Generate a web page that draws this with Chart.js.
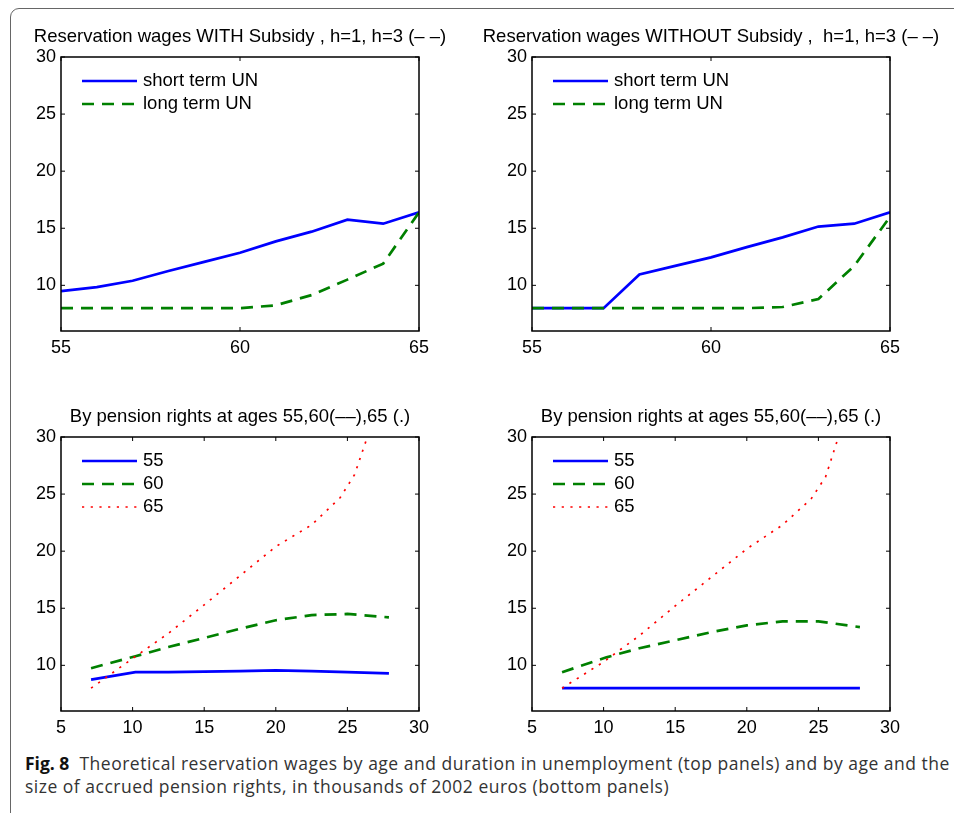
<!DOCTYPE html>
<html>
<head>
<meta charset="utf-8">
<script src="https://cdn.jsdelivr.net/npm/chart.js@4"></script>
<style>
  body { margin: 0; width: 954px; height: 813px; overflow: hidden; background: #fff; position: relative; }
  .frame { position: absolute; left: 10px; top: 8px; width: 1000px; height: 900px; border: 1px solid #666; border-radius: 9px; }
  .panel { position: absolute; width: 474px; height: 364px; }
  .caption { position: absolute; left: 25px; top: 752px; width: 930px; font-family: "Open Sans", sans-serif; font-size: 17.5px; letter-spacing: 0.5px; line-height: 23px; color: #333; }
  .caption b { color: #111; letter-spacing: 0; }
</style>
</head>
<body>
<div class="frame"></div>
<div class="panel" style="left:3px;top:2px"><canvas id="c1"></canvas></div>
<div class="panel" style="left:474px;top:2px"><canvas id="c2"></canvas></div>
<div class="panel" style="left:3px;top:382px"><canvas id="c3"></canvas></div>
<div class="panel" style="left:474px;top:382px"><canvas id="c4"></canvas></div>
<div class="caption"><b>Fig. 8</b>&nbsp; Theoretical reservation wages by age and duration in unemployment (top panels) and by age and the size of accrued pension rights, in thousands of 2002 euros (bottom panels)</div>
<script>
// top panels: ages 55..65
const ages = [55, 56, 57, 58, 59, 60, 61, 62, 63, 64, 65]
const withShort = [9.5, 9.85, 10.4, 11.25, 12.05, 12.85, 13.85, 14.7, 15.75, 15.4, 16.4]
const withLong = [8, 8, 8, 8, 8, 8, 8.25, 9.15, 10.5, 11.9, 16.4]
const withoutShort = [8, 8, 8, 10.95, 11.7, 12.45, 13.35, 14.2, 15.15, 15.4, 16.4]
const withoutLong = [8, 8, 8, 8, 8, 8, 8, 8.1, 8.8, 11.7, 16.0]

// bottom panels: accrued pension rights
const rights = [7.1, 10.2, 12.5, 15, 17.5, 20, 22.5, 25, 27.9]
const rights65 = [7.1, 10, 12.5, 15, 17.5, 20, 22.5, 24.5, 25.5, 26.5]
const sub55 = [8.75, 9.4, 9.4, 9.45, 9.5, 9.55, 9.5, 9.4, 9.3]
const sub60 = [9.75, 10.8, 11.6, 12.4, 13.2, 13.95, 14.4, 14.5, 14.2]
const sub65 = [8.0, 10.6, 12.8, 15.3, 17.85, 20.4, 22.3, 24.7, 26.7, 30.4]
const nosub55 = [8, 8, 8, 8, 8, 8, 8, 8, 8]
const nosub60 = [9.4, 10.7, 11.5, 12.2, 12.9, 13.5, 13.85, 13.85, 13.35]
const nosub65 = [8.0, 10.3, 12.6, 15.2, 17.7, 20.2, 22.3, 24.6, 26.5, 30.4]

const titles = [
    'Reservation wages WITH Subsidy , h=1, h=3 (\u2013 \u2013)',
    'Reservation wages WITHOUT Subsidy ,  h=1, h=3 (\u2013 \u2013)',
    'By pension rights at ages 55,60(\u2013\u2013),65 (.)',
    'By pension rights at ages 55,60(\u2013\u2013),65 (.)'
]

const FONT = '"Liberation Sans", Arial, sans-serif'

const pts = (xs, ys) => xs.map((x, i) => ({x: x, y: ys[i]}))

const solid = (label, data) => ({label, data, borderColor: '#0000ff', borderWidth: 2.7, borderDash: [], order: 2})
const dashed = (label, data) => ({label, data, borderColor: '#008000', borderWidth: 2.7, borderDash: [12, 8], order: 1})
const dotted = (label, data) => ({label, data, borderColor: '#ff0000', borderWidth: 1.7, borderDash: [2.2, 6.5], order: 0})

// box around the plot with inward ticks on all four sides + legend inside
const matlabBox = {
    id: 'matlabBox',
    afterDatasetsDraw(chart) {
        const {ctx, chartArea: a, scales} = chart
        ctx.save()
        ctx.strokeStyle = '#000'
        ctx.lineWidth = 1.5
        ctx.setLineDash([])
        ctx.strokeRect(a.left, a.top, a.right - a.left, a.bottom - a.top)
        ctx.lineWidth = 1
        scales.x.ticks.forEach(t => {
            const px = scales.x.getPixelForValue(t.value)
            ctx.beginPath()
            ctx.moveTo(px, a.bottom); ctx.lineTo(px, a.bottom - 4)
            ctx.moveTo(px, a.top); ctx.lineTo(px, a.top + 4)
            ctx.stroke()
        })
        scales.y.ticks.forEach(t => {
            const py = scales.y.getPixelForValue(t.value)
            ctx.beginPath()
            ctx.moveTo(a.left, py); ctx.lineTo(a.left + 4, py)
            ctx.moveTo(a.right, py); ctx.lineTo(a.right - 4, py)
            ctx.stroke()
        })
        // legend
        ctx.font = '18.5px ' + FONT
        ctx.textBaseline = 'middle'
        ctx.fillStyle = '#000'
        chart.data.datasets.forEach((ds, i) => {
            const y = a.top + 24 + i * 23
            ctx.strokeStyle = ds.borderColor
            ctx.lineWidth = ds.borderWidth
            ctx.setLineDash(ds.borderDash)
            ctx.beginPath()
            ctx.moveTo(a.left + 21, y); ctx.lineTo(a.left + 76, y)
            ctx.stroke()
            ctx.setLineDash([])
            ctx.fillText(ds.label, a.left + 82, y)
        })
        ctx.restore()
    }
}

const makeChart = (id, title, datasets, xmin, xmax) => {
    new Chart(document.getElementById(id), {
        type: 'line',
        data: {datasets: datasets},
        options: {
            responsive: true,
            maintainAspectRatio: false,
            animation: false,
            layout: {padding: 0},
            elements: {point: {radius: 0}, line: {tension: 0}},
            plugins: {
                legend: {display: false},
                tooltip: {enabled: false},
                title: {
                    display: true, text: title, color: '#000',
                    font: {family: FONT, size: 18.5, weight: 'normal'},
                    padding: {top: 23.5, bottom: 9.3}
                }
            },
            scales: {
                x: {
                    type: 'linear', min: xmin, max: xmax,
                    grid: {display: false, drawTicks: false},
                    border: {display: false},
                    ticks: {stepSize: 5, color: '#000', padding: 6, maxRotation: 0, font: {family: FONT, size: 18}},
                    afterFit: s => { s.height = 35; s.paddingLeft = 0; s.paddingRight = 0 }
                },
                y: {
                    min: 6, max: 30,
                    grid: {display: false, drawTicks: false},
                    border: {display: false},
                    ticks: {stepSize: 5, color: '#000', padding: 5, font: {family: FONT, size: 18}},
                    afterBuildTicks: s => { s.ticks = s.ticks.filter(t => t.value % 5 === 0) },
                    afterFit: s => { s.width = 58; s.paddingTop = 0; s.paddingBottom = 0 }
                },
                // empty right-hand axis, keeps the plot centred under the title
                yRight: {
                    position: 'right', display: true, min: 6, max: 30,
                    grid: {display: false, drawTicks: false},
                    border: {display: false},
                    ticks: {display: false},
                    afterFit: s => { s.width = 58; s.paddingTop = 0; s.paddingBottom = 0 }
                }
            }
        },
        plugins: [matlabBox]
    })
}

makeChart('c1', titles[0], [
    solid('short term UN', pts(ages, withShort)),
    dashed('long term UN', pts(ages, withLong))
], 55, 65)

makeChart('c2', titles[1], [
    solid('short term UN', pts(ages, withoutShort)),
    dashed('long term UN', pts(ages, withoutLong))
], 55, 65)

makeChart('c3', titles[2], [
    solid('55', pts(rights, sub55)),
    dashed('60', pts(rights, sub60)),
    dotted('65', pts(rights65, sub65))
], 5, 30)

makeChart('c4', titles[3], [
    solid('55', pts(rights, nosub55)),
    dashed('60', pts(rights, nosub60)),
    dotted('65', pts(rights65, nosub65))
], 5, 30)
</script>
</body>
</html>
